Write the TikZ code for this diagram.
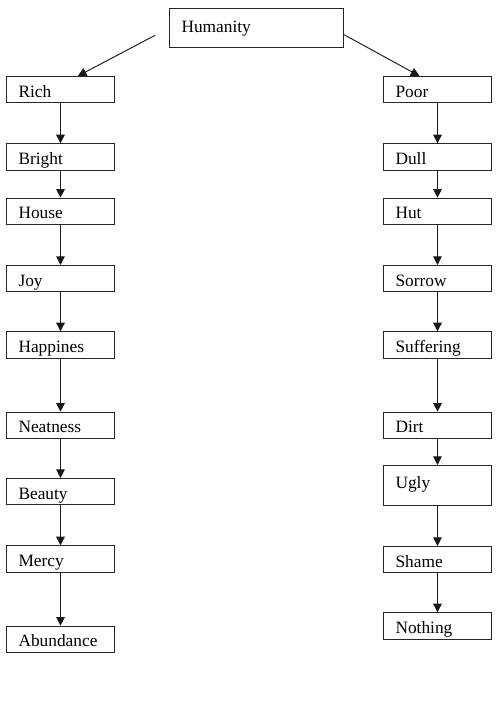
\documentclass[tikz,border=0pt]{standalone}
\usepackage{fontspec}
\setmainfont{Liberation Serif}
\usetikzlibrary{positioning, arrows.meta}

\begin{document}
\begin{tikzpicture}[
  x=0.75pt, y=-0.75pt,
  word/.style={
    rectangle, draw=black!85, line width=0.8pt,
    font=\fontsize{13}{15}\selectfont,
    text width=62.95pt, align=left,
    inner xsep=9pt, inner ysep=0pt,
    text height=15.5pt, text depth=4.2pt
  },
  tallword/.style={
    word, text height=16.9pt, text depth=13.05pt
  },
  root/.style={
    word, text width=112.45pt,
    text height=17.6pt, text depth=11.6pt
  },
  link/.style={
    -{Triangle[length=6.5pt, width=6.5pt]}, line width=0.7pt, color=black!90
  }
]
\useasboundingbox (0,0) rectangle (496,707);

\node[root] (humanity) at (256.5,28) {Humanity};

\node[word, below left=21pt and 40.5pt of humanity]  (rich)      {Rich};
\node[word, below=30pt of rich]                      (bright)    {Bright};
\node[word, below=20.25pt of bright]                 (house)     {House};
\node[word, below=30pt of house]                     (joy)       {Joy};
\node[word, below=29.25pt of joy]                    (happines)  {Happines};
\node[word, below=39.75pt of happines]               (neatness)  {Neatness};
\node[word, below=29.25pt of neatness]               (beauty)    {Beauty};
\node[word, below=30pt of beauty]                    (mercy)     {Mercy};
\node[word, below=39.75pt of mercy]                  (abundance) {Abundance};

\node[word, below right=21pt and 29.25pt of humanity] (poor)      {Poor};
\node[word, below=30pt of poor]                       (dull)      {Dull};
\node[word, below=20.25pt of dull]                    (hut)       {Hut};
\node[word, below=30pt of hut]                        (sorrow)    {Sorrow};
\node[word, below=29.25pt of sorrow]                  (suffering) {Suffering};
\node[word, below=39.75pt of suffering]               (dirt)      {Dirt};
\node[tallword, below=19.5pt of dirt]                 (ugly)      {Ugly};
\node[word, below=30pt of ugly]                       (shame)     {Shame};
\node[word, below=29.25pt of shame]                   (nothing)   {Nothing};

\draw[link, shorten <=11.8pt] (humanity.west) -- ([xshift=13pt]rich.north);
\draw[link] ([yshift=-5pt]humanity.east) -- ([xshift=-13.5pt]poor.north);

\draw[link] (rich.south)     -- (bright.north);
\draw[link] (bright.south)   -- (house.north);
\draw[link] (house.south)    -- (joy.north);
\draw[link] (joy.south)      -- (happines.north);
\draw[link] (happines.south) -- (neatness.north);
\draw[link] (neatness.south) -- (beauty.north);
\draw[link] (beauty.south)   -- (mercy.north);
\draw[link] (mercy.south)    -- (abundance.north);

\draw[link] (poor.south)      -- (dull.north);
\draw[link] (dull.south)      -- (hut.north);
\draw[link] (hut.south)       -- (sorrow.north);
\draw[link] (sorrow.south)    -- (suffering.north);
\draw[link] (suffering.south) -- (dirt.north);
\draw[link] (dirt.south)      -- (ugly.north);
\draw[link] (ugly.south)      -- (shame.north);
\draw[link] (shame.south)     -- (nothing.north);
\end{tikzpicture}
\end{document}
